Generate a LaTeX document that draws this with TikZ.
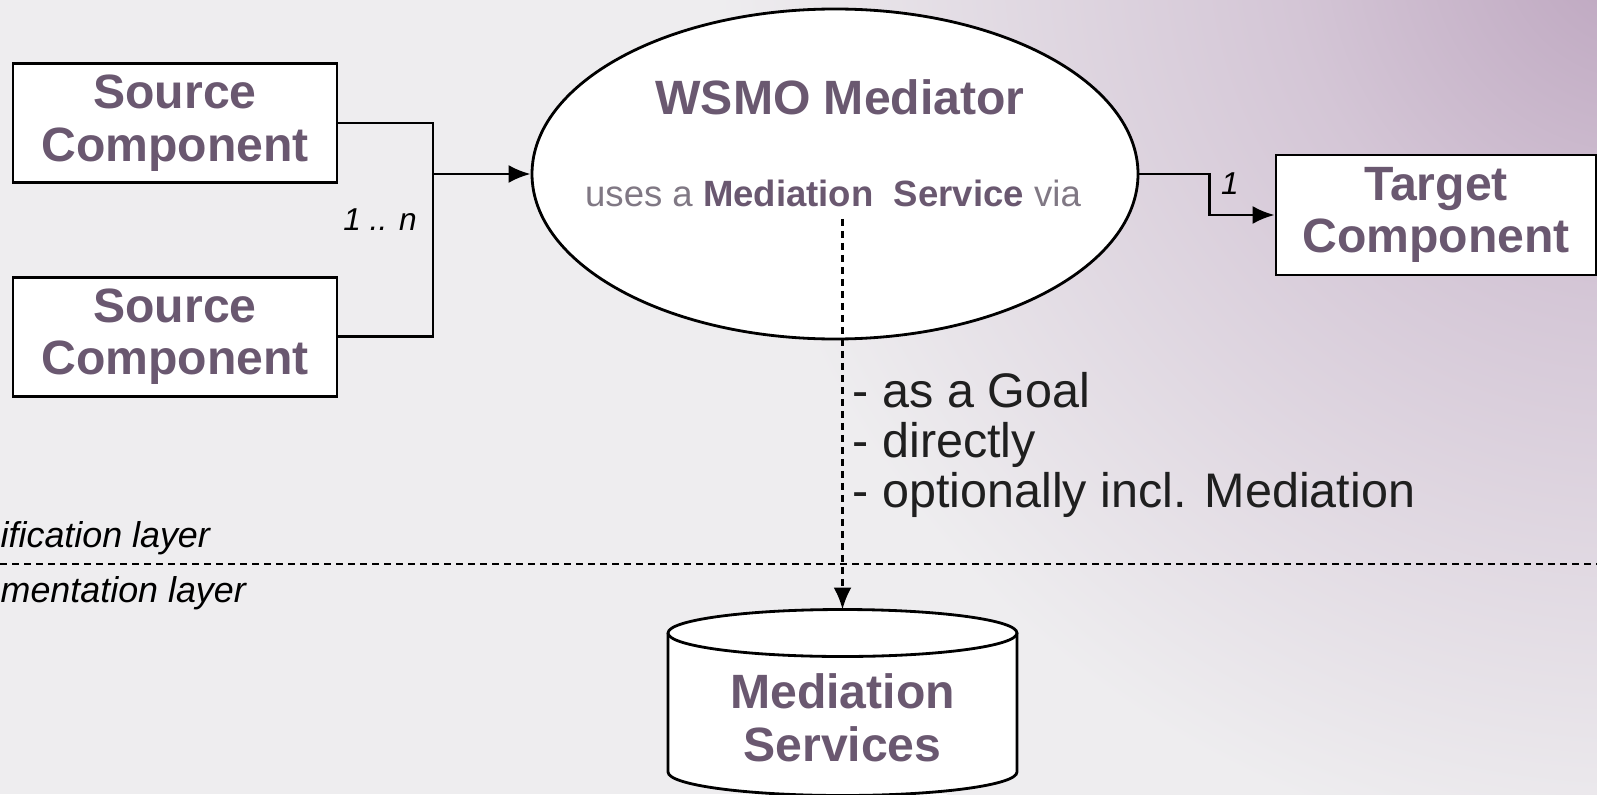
\documentclass[tikz,border=0pt]{standalone}
\usepackage{fontspec}
\setmainfont{Liberation Sans}
\usetikzlibrary{arrows.meta,shapes.geometric,positioning}

\definecolor{labelc}{RGB}{106,88,112}
\definecolor{usec}{RGB}{128,120,132}
\definecolor{bgbase}{RGB}{238,237,239}
\definecolor{glowin}{RGB}{188,164,190}
\definecolor{glowmid}{RGB}{212,198,214}
\pgfdeclareradialshading{bgglow}{\pgfpoint{0bp}{0bp}}{color(0bp)=(glowin); color(8bp)=(glowmid); color(21bp)=(bgbase); color(50bp)=(bgbase)}

\begin{document}
\begin{tikzpicture}[
    comp/.style={draw, fill=white, line width=0.8pt, align=center, inner sep=0pt,
      font=\bfseries\fontsize{13.7}{15}\selectfont, text=labelc},
    link/.style={line width=0.8pt},
    arr/.style={link, -{Latex[length=2.2mm, width=1.8mm]}},
  ]
    \useasboundingbox (0,0) rectangle (15.97,-7.94);
    % background
    \fill[bgbase] (0,0) rectangle (15.97,-7.94);
    \begin{scope}
      \clip (0,0) rectangle (15.97,-7.94);
      \shade[shading=bgglow] (16.4,0.6) circle (11);
    \end{scope}

    % layers
    \coordinate (layL) at (0,-5.64);
    \coordinate (layR) at (15.97,-5.64);
    \draw[line width=0.7pt, dash pattern=on 0.07cm off 0.05cm] (layL) -- (layR);
    \node[anchor=west, inner sep=0pt, font=\itshape\fontsize{10.2}{12}\selectfont] (specl) at (0,-5.38) {ification layer};
    \node[anchor=west, inner sep=0pt, font=\itshape\fontsize{10.2}{12}\selectfont] (impll) at (0,-5.93) {mentation layer};

    % components
    \node[comp, minimum width=3.24cm, minimum height=1.19cm] (src1) at (1.75,-1.23) {Source\\Component};
    \node[comp, minimum width=3.24cm, minimum height=1.19cm, below=0.92cm of src1] (src2) {Source\\Component};
    \node[comp, minimum width=3.2cm, minimum height=1.2cm] (tgt) at (14.36,-2.15) {Target\\Component};

    % mediator
    \node[draw, ellipse, fill=white, line width=0.8pt, minimum width=6.06cm, minimum height=3.30cm] (med) at (8.35,-1.74) {};
    \node[font=\bfseries\fontsize{13.7}{15}\selectfont, text=labelc] (title) at (8.40,-0.97) {WSMO Mediator};
    \node[font=\fontsize{10.4}{12}\selectfont, text=usec] (uses) at (8.33,-1.93) {uses a \textcolor{labelc}{\bfseries Mediation\ \ Service} via};

    % source side
    \coordinate (fork) at (4.33,-1.74);
    \draw[link] (src1.east) -| (fork) |- (src2.east);
    \draw[arr] (fork) -- (med.west);
    \node[font=\itshape\fontsize{9}{10}\selectfont] (many) at (3.80,-2.20) {1 .. n};

    % target side
    \draw[arr] (med.east) -- ++(0.7,0) |- (tgt.west);
    \node[font=\itshape\fontsize{9}{10}\selectfont] (one) at (12.30,-1.84) {1};

    % mediation services
    \draw[link, fill=white] (6.68,-6.33) -- (6.68,-7.72) arc[start angle=180, end angle=360, x radius=1.745, y radius=0.235] -- (10.17,-6.33);
    \draw[link, fill=white] (8.425,-6.33) ellipse [x radius=1.745, y radius=0.235];
    \coordinate (msTop) at (8.425,-6.095);
    \node[align=center, font=\bfseries\fontsize{13.7}{15}\selectfont, text=labelc] (ms) at (8.425,-7.18) {Mediation\\Services};

    \draw[arr, dash pattern=on 0.07cm off 0.05cm] (uses.south -| msTop) -- (msTop);
    \node[anchor=west, align=left, inner sep=0pt, font=\fontsize{13.8}{14.3}\selectfont, text=black!88] (ways) at (8.52,-4.45) {- as a Goal\\- directly\\- optionally incl. Mediation};
  \end{tikzpicture}
\end{document}
